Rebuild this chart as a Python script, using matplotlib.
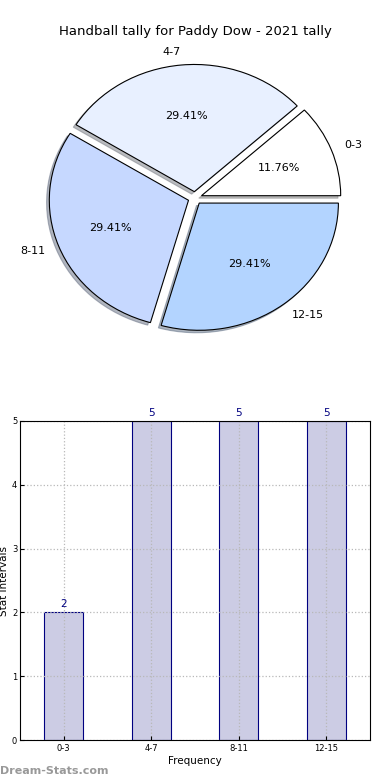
import matplotlib
matplotlib.use("Agg")
import matplotlib.pyplot as plt

categories = ["0-3", "4-7", "8-11", "12-15"]
values = [2, 5, 5, 5]
pie_colors = ["#ffffff", "#e8f0ff", "#c6d8ff", "#b3d4ff"]

fig = plt.figure(figsize=(3.9, 7.8), dpi=100)

# Pie chart (non-equal aspect, as in the reference)
ax1 = fig.add_axes([21 / 390, 1 - 357 / 780, 348 / 390, 318 / 780])
ax1.pie(values, labels=categories, colors=pie_colors, autopct="%.2f%%",
        startangle=0, explode=[0.05] * 4,
        shadow=dict(ox=-0.014, oy=-0.014, shade=0.5),
        wedgeprops=dict(edgecolor="black", linewidth=0.8),
        textprops=dict(fontsize=8))
ax1.set_aspect("auto")
ax1.set_xlim(-1.25, 1.25)
ax1.set_ylim(-1.25, 1.25)
ax1.set_title("Handball tally for Paddy Dow - 2021 tally", fontsize=9.5, pad=3)

# Bar chart
ax2 = fig.add_axes([20 / 390, 1 - 740 / 780, 350 / 390, 319 / 780])
x = list(range(len(categories)))
ax2.bar(x, values, width=0.45, color="#ccccE4", linewidth=0, zorder=1)
ax2.bar(x, values, width=0.45, fill=False, edgecolor="#000080", linewidth=0.8, zorder=2)
for xi, v in zip(x, values):
    ax2.text(xi, v + 0.05, str(v), ha="center", va="bottom", fontsize=7.5, color="#000080")
ax2.set_xlim(-0.5, 3.5)
ax2.set_ylim(0, 5)
ax2.set_xticks(x)
ax2.set_xticklabels(categories, fontsize=6)
ax2.set_yticks([0, 1, 2, 3, 4, 5])
ax2.tick_params(axis="y", labelsize=6, direction="in", length=3, pad=2)
ax2.tick_params(axis="x", direction="in", length=3, pad=3)
ax2.set_axisbelow(False)
ax2.grid(True, linestyle=":", color="#b8b8b8", linewidth=0.9)
for gl in ax2.get_xgridlines() + ax2.get_ygridlines():
    gl.set_zorder(1.5)
for sp in ax2.spines.values():
    sp.set_zorder(3)
ax2.set_xlabel("Frequency", fontsize=7.5, labelpad=2)
ax2.set_ylabel("Stat Intervals", fontsize=7.5, labelpad=2)

fig.text(0.0, 1 - 771 / 780, "Dream-Stats.com", fontsize=8, color="#999999",
         fontweight="bold", ha="left", va="center")

fig.savefig("out.png", dpi=100)
